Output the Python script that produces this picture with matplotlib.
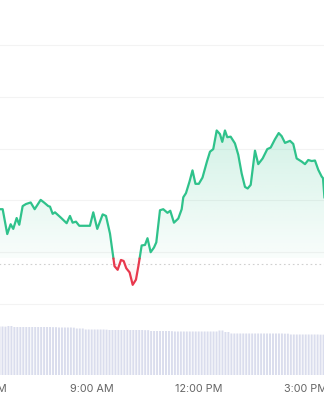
import numpy as np
import matplotlib
matplotlib.use("Agg")
import matplotlib.pyplot as plt
from matplotlib.patches import Polygon
from matplotlib.colors import to_rgb

# ---------------- data ----------------
# time in minutes after midnight, price in USD
times = [385.8, 390.3, 398.0, 403.7, 408.1, 413.8, 418.2, 423.9, 429.5, 437.4,
         444.1, 454.2, 459.8, 467.0, 469.9, 474.4, 478.3, 487.9, 497.9, 503.5,
         508.0, 513.6, 519.1, 537.1, 542.7, 549.4, 558.5, 564.1, 570.8, 578.4,
         583.7, 589.3, 593.8, 598.2, 603.8, 609.0, 614.5, 618.7, 624.1, 629.7,
         633.9, 639.2, 644.8, 648.7, 654.9, 660.4, 667.5, 672.2, 678.4, 685.7,
         691.4, 694.1, 698.6, 704.5, 709.6, 714.6, 720.2, 726.4, 733.9, 739.0,
         744.5, 750.3, 755.8, 759.7, 764.2, 768.1, 773.8, 781.0, 786.6, 792.3,
         797.9, 802.4, 807.5, 814.7, 820.2, 827.6, 835.4, 841.1, 848.3, 854.6,
         859.6, 865.2, 873.6, 879.1, 884.8, 893.2, 898.8, 904.3, 910.1, 915.6,
         921.2, 926.9, 929.1, 931.6]
prices = [61183, 61183, 61135, 61154, 61145, 61166, 61153, 61189, 61193, 61196,
          61183, 61201, 61196, 61189, 61188, 61174, 61177, 61167, 61156, 61170,
          61157, 61159, 61151, 61151, 61177, 61145, 61173, 61170, 61136, 61073,
          61066, 61085, 61083, 61069, 61061, 61037, 61047, 61074, 61113, 61114,
          61127, 61100, 61109, 61119, 61181, 61183, 61176, 61180, 61157, 61165,
          61183, 61206, 61214, 61236, 61258, 61232, 61232, 61244, 61275, 61294,
          61299, 61335, 61328, 61313, 61335, 61322, 61323, 61310, 61288, 61252,
          61226, 61223, 61230, 61296, 61270, 61281, 61299, 61302, 61318, 61330,
          61324, 61311, 61315, 61309, 61281, 61275, 61270, 61278, 61276, 61277,
          61259, 61246, 61243, 61205]
open_price = 61077        # dotted reference line
color_split = 61088       # price where the line turns from green to red

bar_start = 385           # 6:25 AM, 5-minute bars
volumes = [29.1, 29.1, 29.0, 29.4, 29.4, 28.8, 28.8, 28.8, 28.8, 28.8,
           28.8, 28.8, 28.8, 28.8, 28.8, 28.8, 28.8, 28.8, 28.7, 28.7,
           28.5, 28.5, 28.5, 28.5, 28.5, 28.4, 27.9, 27.9, 27.9, 27.3,
           27.3, 27.3, 27.3, 27.3, 27.3, 27.3, 27.2, 27.0, 27.0, 27.0,
           27.0, 27.0, 27.0, 27.0, 27.0, 27.0, 27.0, 27.0, 27.0, 26.9,
           26.9, 26.4, 26.4, 26.4, 26.4, 26.4, 26.4, 26.4, 26.3, 26.1,
           26.1, 26.1, 26.1, 26.1, 26.1, 26.1, 26.1, 26.1, 26.1, 26.1,
           26.1, 26.1, 26.1, 26.1, 26.7, 26.7, 25.8, 25.8, 24.9, 24.9,
           24.9, 24.9, 24.9, 24.9, 24.9, 24.9, 24.9, 24.9, 24.9, 24.9,
           24.9, 24.9, 24.9, 24.9, 24.9, 24.9, 24.8, 24.8, 24.3, 24.3,
           24.3, 24.3, 24.3, 24.3, 24.3, 24.3, 24.3, 24.3, 24.2, 24.2]

tick_minutes = [360, 540, 720, 900]
tick_labels = ["6:00 AM", "9:00 AM", "12:00 PM", "3:00 PM"]
grid_levels = [61000, 61100, 61200, 61300, 61400, 61500]

GREEN = "#2fc28b"
RED = "#e8384d"
BAR = "#dadded"

# ---------------- helpers ----------------
def with_crossings(t, p, thr):
    t = np.asarray(t, float)
    p = np.asarray(p, float)
    nt, npr = [t[0]], [p[0]]
    for i in range(1, len(t)):
        a, b = p[i - 1] - thr, p[i] - thr
        if a * b < 0:
            f = a / (a - b)
            nt.append(t[i - 1] + f * (t[i] - t[i - 1]))
            npr.append(thr)
        nt.append(t[i])
        npr.append(p[i])
    return np.array(nt), np.array(npr)

# ---------------- figure ----------------
W, H = 324, 400
fig = plt.figure(figsize=(W / 100, H / 100), dpi=100, facecolor="white")

ext = 40 / W  # axes extend beyond the figure on both sides
min_per_px = 1.6821
x_left = times[0] - 40 * min_per_px
x_right = times[0] + (W + 40) * min_per_px

p_per_px = 100 / 51.8
y_top = 61000 + 304 * p_per_px
y_bot = 61000 - 11 * p_per_px

ax = fig.add_axes([-ext, (H - 315) / H, 1 + 2 * ext, 315 / H])
ax.set_xlim(x_left, x_right)
ax.set_ylim(y_bot, y_top)
ax.axis("off")

for g in grid_levels:
    ax.axhline(g, color="#f3f3f3", lw=0.8, zorder=0)
ax.axhline(open_price, color="#d0d0d0", lw=0.8, ls=(0, (1.5, 2.5)), zorder=1)

t2, p2 = with_crossings(times, prices, color_split)

# gradient fill above the split (green)
top_p = max(prices)
up = np.maximum(p2, color_split)
poly_g = Polygon(np.column_stack([np.r_[t2, t2[::-1]],
                                  np.r_[up, np.full_like(t2, color_split)]]),
                 closed=True, facecolor="none", edgecolor="none")
ax.add_patch(poly_g)
n = 256
grad = np.zeros((n, 1, 4))
grad[:, 0, :3] = to_rgb(GREEN)
grad[:, 0, 3] = np.linspace(0.22, 0.03, n)
im = ax.imshow(grad, extent=[t2[0], t2[-1], color_split, top_p + 10],
               aspect="auto", origin="upper", zorder=1, interpolation="bilinear")
im.set_clip_path(poly_g)

# faint red fill below the split
dn = np.minimum(p2, color_split)
poly_r = Polygon(np.column_stack([np.r_[t2, t2[::-1]],
                                  np.r_[dn, np.full_like(t2, color_split)]]),
                 closed=True, facecolor="none", edgecolor="none")
ax.add_patch(poly_r)
gradr = np.zeros((n, 1, 4))
gradr[:, 0, :3] = to_rgb(RED)
gradr[:, 0, 3] = np.linspace(0.02, 0.08, n)
imr = ax.imshow(gradr, extent=[t2[0], t2[-1], min(prices) - 5, color_split],
                aspect="auto", origin="upper", zorder=1, interpolation="bilinear")
imr.set_clip_path(poly_r)
ax.set_xlim(x_left, x_right)
ax.set_ylim(y_bot, y_top)

eps = 1e-6
g_line = np.ma.masked_where(p2 < color_split - eps, p2)
r_line = np.ma.masked_where(p2 > color_split + eps, p2)
ax.plot(t2, g_line, color=GREEN, lw=1.6, solid_joinstyle="round",
        solid_capstyle="round", zorder=3)
ax.plot(t2, r_line, color=RED, lw=1.6, solid_joinstyle="round",
        solid_capstyle="round", zorder=3)

# ---------------- volume ----------------
axv = fig.add_axes([-ext, 25 / H, 1 + 2 * ext, 53 / H])
bar_times = bar_start + 5 * np.arange(len(volumes))
bars = axv.bar(bar_times, volumes, width=5 * 0.66, color=BAR, linewidth=0)
for b in bars:
    b.set_snap(False)
axv.set_xlim(x_left, x_right)
axv.set_ylim(0, 53 * 0.6)
for s in axv.spines.values():
    s.set_visible(False)
axv.set_yticks([])
axv.set_xticks(tick_minutes)
axv.set_xticklabels(tick_labels, fontfamily="Inter", fontsize=7.8,
                    color="#666666")
axv.tick_params(axis="x", length=0, pad=6.5)
axv.patch.set_alpha(0)

fig.savefig("out.png", dpi=100, facecolor="white")
